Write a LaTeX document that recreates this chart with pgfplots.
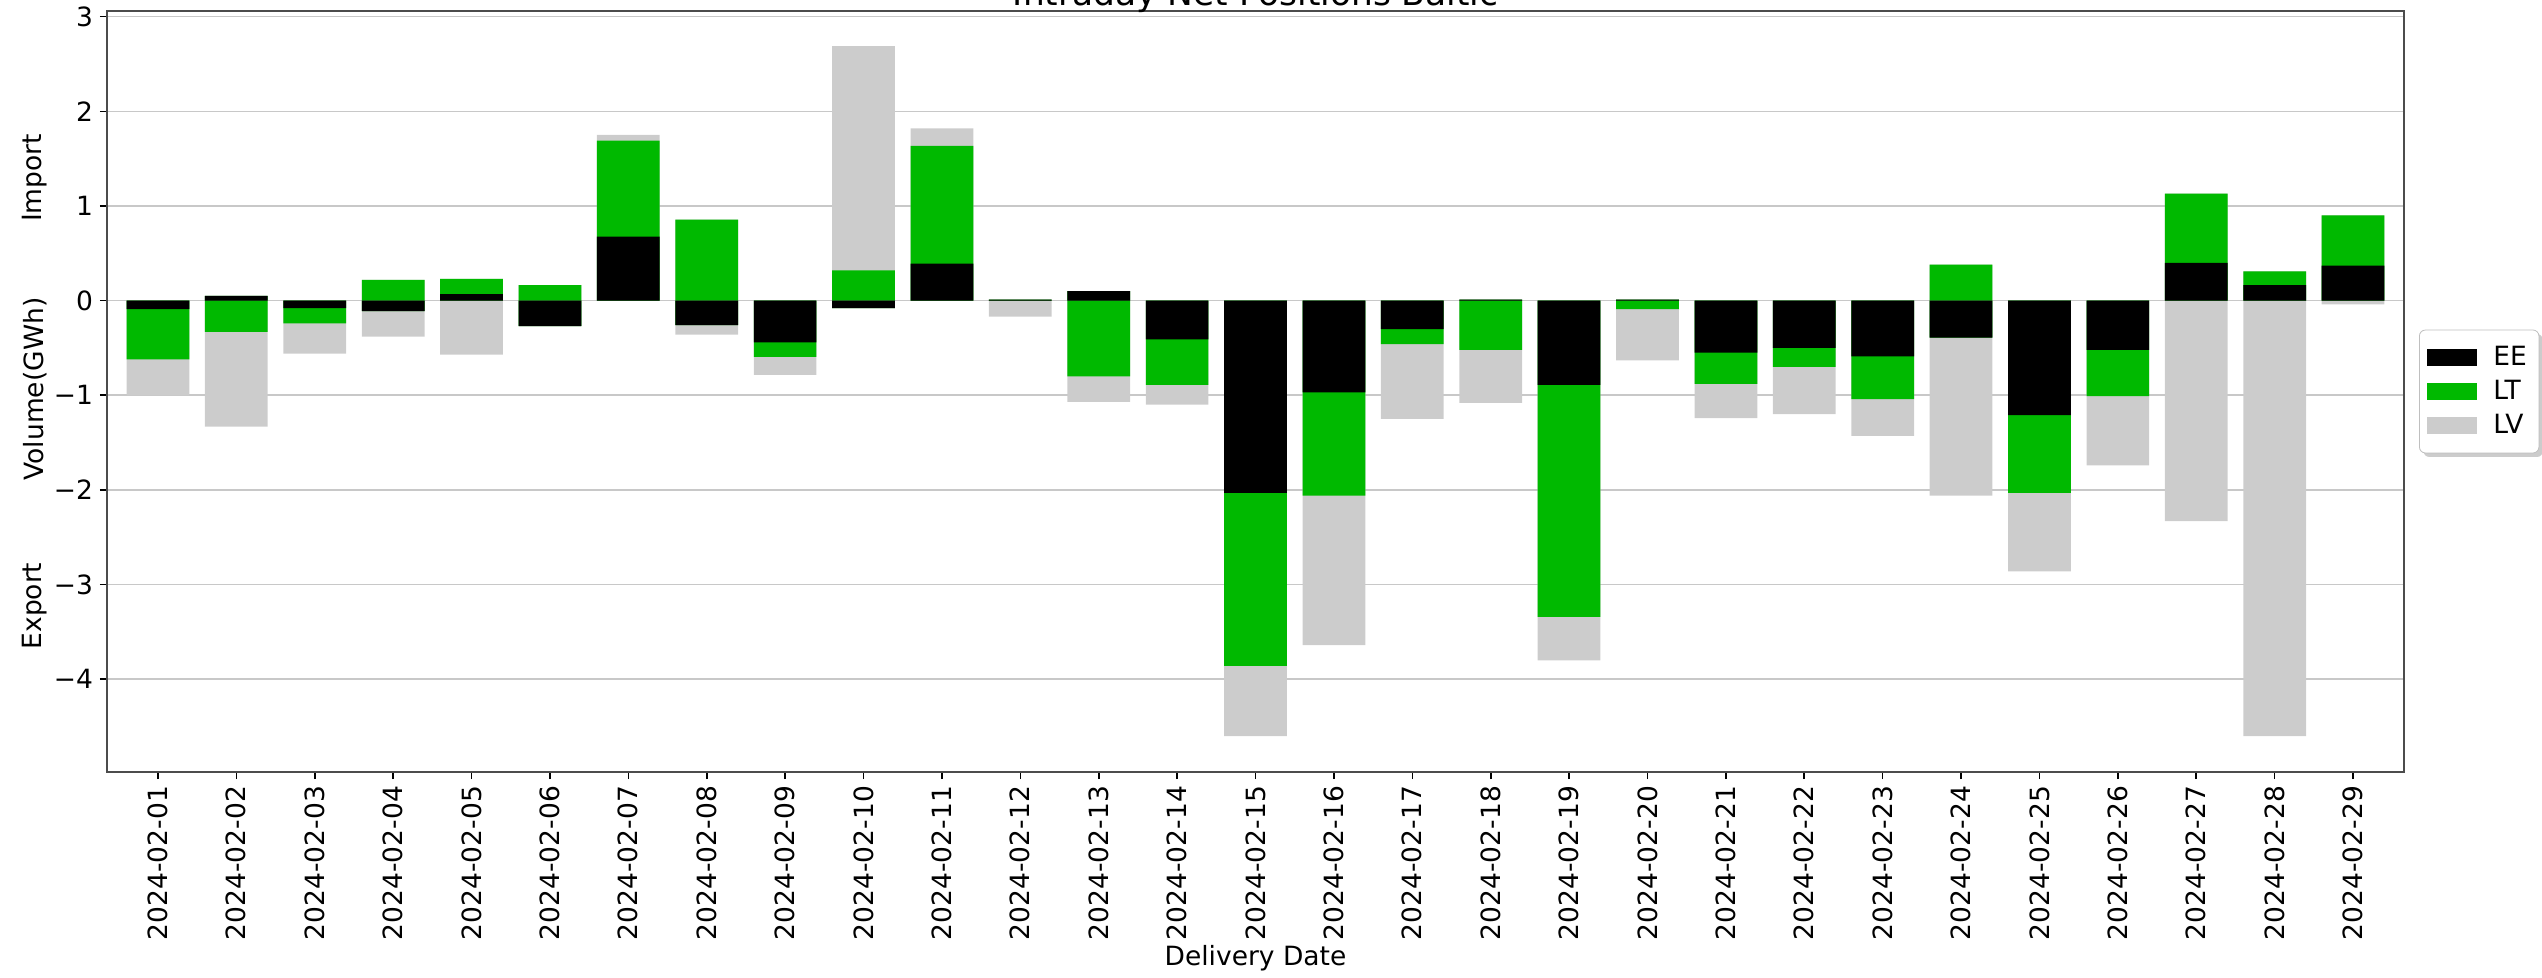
\documentclass[border=0pt]{standalone}
\usepackage{pgfplots}
\pgfplotsset{compat=1.18}
\usepackage{pgfplotstable}
\usepackage{fontspec}
\setmainfont{DejaVu Sans}
\usetikzlibrary{calc,shadows}

\makeatletter
\tikzset{no preactions/.code={\let\tikz@preactions=\pgfutil@empty}}
\makeatother

\definecolor{eecol}{RGB}{0,0,0}
\definecolor{ltcol}{RGB}{0,185,0}
\definecolor{lvcol}{RGB}{204,204,204}
\definecolor{gridcol}{RGB}{200,200,200}

\newcommand\tfont{\fontsize{13.25}{15.9}\selectfont}

% day index, EE, LT, LV (GWh)
\pgfplotstableread{
idx EE LT LV
0 -0.09 -0.53 -0.38
1 0.05 -0.33 -1.00
2 -0.08 -0.16 -0.32
3 -0.11 0.22 -0.27
4 0.07 0.16 -0.57
5 -0.27 0.165 0.0
6 0.675 1.015 0.06
7 -0.26 0.855 -0.10
8 -0.44 -0.155 -0.19
9 -0.08 0.32 2.37
10 0.39 1.245 0.185
11 0.01 0.0 -0.17
12 0.10 -0.80 -0.27
13 -0.41 -0.48 -0.21
14 -2.03 -1.83 -0.74
15 -0.97 -1.09 -1.58
16 -0.30 -0.16 -0.79
17 0.01 -0.52 -0.56
18 -0.89 -2.45 -0.46
19 0.01 -0.09 -0.54
20 -0.55 -0.33 -0.36
21 -0.50 -0.20 -0.50
22 -0.59 -0.45 -0.39
23 -0.39 0.38 -1.67
24 -1.21 -0.82 -0.83
25 -0.52 -0.49 -0.73
26 0.40 0.73 -2.33
27 0.165 0.145 -4.60
28 0.37 0.53 -0.04
}\datatable

\begin{document}
\begin{tikzpicture}
\begin{axis}[
  scale only axis, width=1148.5pt, height=380.5pt,
  xmin=-0.65, xmax=28.65, ymin=-4.98, ymax=3.06,
  enlargelimits=false,
  ybar, bar width=0.8, bar shift=0pt,
  ymajorgrids, grid style={gridcol, line width=0.8pt},
  axis line style={black!70, line width=1pt},
  xtick={0,...,28},
  xticklabels={2024-02-01,2024-02-02,2024-02-03,2024-02-04,2024-02-05,2024-02-06,2024-02-07,2024-02-08,2024-02-09,2024-02-10,2024-02-11,2024-02-12,2024-02-13,2024-02-14,2024-02-15,2024-02-16,2024-02-17,2024-02-18,2024-02-19,2024-02-20,2024-02-21,2024-02-22,2024-02-23,2024-02-24,2024-02-25,2024-02-26,2024-02-27,2024-02-28,2024-02-29},
  ytick={-4,-3,-2,-1,0,1,2,3},
  yticklabels={−4,−3,−2,−1,0,1,2,3},
  tick align=outside, tick pos=left, major tick length=3.5pt,
  tick style={black, line width=0.8pt},
  x tick label style={rotate=90, anchor=east, font=\tfont},
  y tick label style={font=\tfont},
  /pgf/number format/assume math mode=true,
  legend image code/.code={\path[no preactions, #1, sharp corners] (0pt,-4.25pt) rectangle (25pt,4.25pt); \path (0pt,0pt) (31pt,0pt);},
  legend cell align=left,
  legend style={at={(1,0.5)}, anchor=west, xshift=7.5pt, font=\tfont,
    draw=black!25, rounded corners=3pt, fill=white,
    drop shadow={shadow xshift=2pt, shadow yshift=-2pt, fill=black!40},
    inner xsep=4pt, inner ysep=6pt, row sep=2pt},
]
\addlegendimage{fill=eecol, draw=none}\addlegendentry{EE}
\addlegendimage{fill=ltcol, draw=none}\addlegendentry{LT}
\addlegendimage{fill=lvcol, draw=none}\addlegendentry{LV}

% outer (LV) boundaries
\addplot[fill=lvcol, draw=none, forget plot] table[x=idx, y expr={max(\thisrow{EE},0)+max(\thisrow{LT},0)+max(\thisrow{LV},0)}] {\datatable};
\addplot[fill=lvcol, draw=none, forget plot] table[x=idx, y expr={min(\thisrow{EE},0)+min(\thisrow{LT},0)+min(\thisrow{LV},0)}] {\datatable};
% middle (LT) boundaries
\addplot[fill=ltcol, draw=none, forget plot] table[x=idx, y expr={max(\thisrow{EE},0)+max(\thisrow{LT},0)}] {\datatable};
\addplot[fill=ltcol, draw=none, forget plot] table[x=idx, y expr={min(\thisrow{EE},0)+min(\thisrow{LT},0)}] {\datatable};
% inner (EE)
\addplot[fill=eecol, draw=none, forget plot] table[x=idx, y expr={max(\thisrow{EE},0)}] {\datatable};
\addplot[fill=eecol, draw=none, forget plot] table[x=idx, y expr={min(\thisrow{EE},0)}] {\datatable};
\end{axis}

\node[font=\fontsize{17.2}{20}\selectfont, anchor=base] at ($(current axis.north)+(0pt,2.5pt)$) {Intraday Net Positions Baltic};
\node[rotate=90, font=\tfont, anchor=center] at ($(current axis.south west)+(-36pt,191.5pt)$) {Volume(GWh)};
\node[rotate=90, font=\tfont, anchor=center] at ($(current axis.south west)+(-36pt,297pt)$) {Import};
\node[rotate=90, font=\tfont, anchor=center] at ($(current axis.south west)+(-36pt,83pt)$) {Export};
\node[font=\tfont, anchor=center] at ($(current axis.south)+(0pt,-93pt)$) {Delivery Date};

\pgfresetboundingbox
\path[use as bounding box] ($(current axis.south west)+(-53.5pt,-102.5pt)$) rectangle ($(current axis.north east)+(69pt,5.5pt)$);
\end{tikzpicture}
\end{document}
